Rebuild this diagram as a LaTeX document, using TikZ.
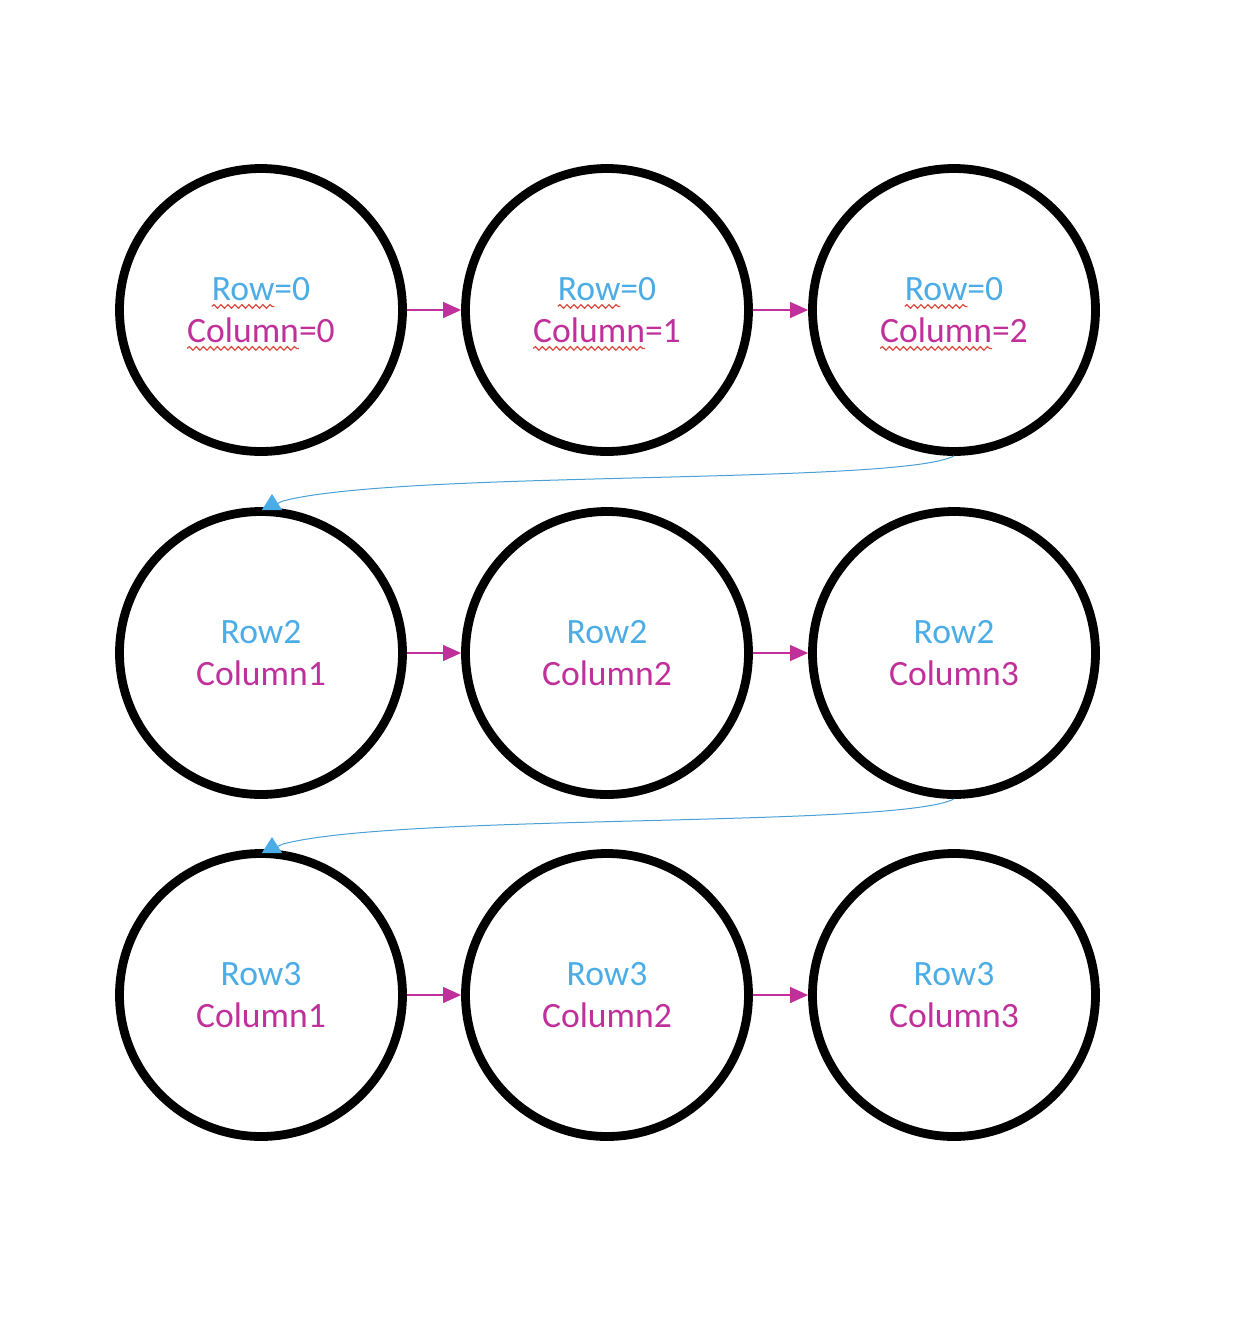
\documentclass[tikz,border=0pt]{standalone}
\usepackage{fontspec}
\setmainfont{Carlito}
\usetikzlibrary{arrows.meta,decorations.pathmorphing}
\definecolor{rowblue}{HTML}{4BACE6}
\definecolor{colmag}{HTML}{C0309A}
\definecolor{linkblue}{HTML}{4A9FD6}
\definecolor{spellred}{HTML}{D9483B}
\newcommand\spellchk[1]{\tikz[baseline=(spw.base)]{\node[shape=rectangle,inner sep=0pt,outer sep=0pt,minimum size=0pt,anchor=base](spw){#1};\draw[overlay,draw=spellred,line width=0.6pt,decorate,decoration={snake,amplitude=0.9pt,segment length=3.5pt}]([yshift=-3pt]spw.base west)--([yshift=-3pt]spw.base east);}}
\begin{document}
\begin{tikzpicture}[x=0.5pt,y=-0.5pt,
  cell/.style={circle,draw=black,line width=4.4pt,minimum size=141.5pt,inner sep=0pt,align=center,font=\fontsize{17.8pt}{21pt}\selectfont},
  nextarrow/.style={draw=colmag,line width=0.6pt,-{Triangle[length=9pt,width=8pt,fill=colmag]}},
  wraparrow/.style={draw=linkblue,line width=0.5pt,-{Triangle[length=8pt,width=10pt,color=rowblue,fill=rowblue]}}]
\useasboundingbox (0,0) rectangle (1238,1318);
% row 1
\node[cell] (c00) at (261,310) {\textcolor{rowblue}{\spellchk{Row}=0}\\\textcolor{colmag}{\spellchk{Column}=0}};
\node[cell] (c01) at (607,310) {\textcolor{rowblue}{\spellchk{Row}=0}\\\textcolor{colmag}{\spellchk{Column}=1}};
\node[cell] (c02) at (954,310) {\textcolor{rowblue}{\spellchk{Row}=0}\\\textcolor{colmag}{\spellchk{Column}=2}};
% row 2
\node[cell] (c10) at (261,653) {\textcolor{rowblue}{Row2}\\\textcolor{colmag}{Column1}};
\node[cell] (c11) at (607,653) {\textcolor{rowblue}{Row2}\\\textcolor{colmag}{Column2}};
\node[cell] (c12) at (954,653) {\textcolor{rowblue}{Row2}\\\textcolor{colmag}{Column3}};
% row 3
\node[cell] (c20) at (261,995) {\textcolor{rowblue}{Row3}\\\textcolor{colmag}{Column1}};
\node[cell] (c21) at (607,995) {\textcolor{rowblue}{Row3}\\\textcolor{colmag}{Column2}};
\node[cell] (c22) at (954,995) {\textcolor{rowblue}{Row3}\\\textcolor{colmag}{Column3}};
% horizontal arrows
\draw[nextarrow] (c00) -- (c01);
\draw[nextarrow] (c01) -- (c02);
\draw[nextarrow] (c10) -- (c11);
\draw[nextarrow] (c11) -- (c12);
\draw[nextarrow] (c20) -- (c21);
\draw[nextarrow] (c21) -- (c22);
% wrap-around connectors
\coordinate (e1) at (272,494);
\coordinate (e2) at (272,837);
\draw[wraparrow] (c02.south) .. controls (900,485) and (400,470) .. (283,501) .. controls (276,503) and (272,509) .. (e1);
\draw[wraparrow] (c12.south) .. controls (900,828) and (400,813) .. (283,844) .. controls (276,846) and (272,852) .. (e2);
\end{tikzpicture}
\end{document}
